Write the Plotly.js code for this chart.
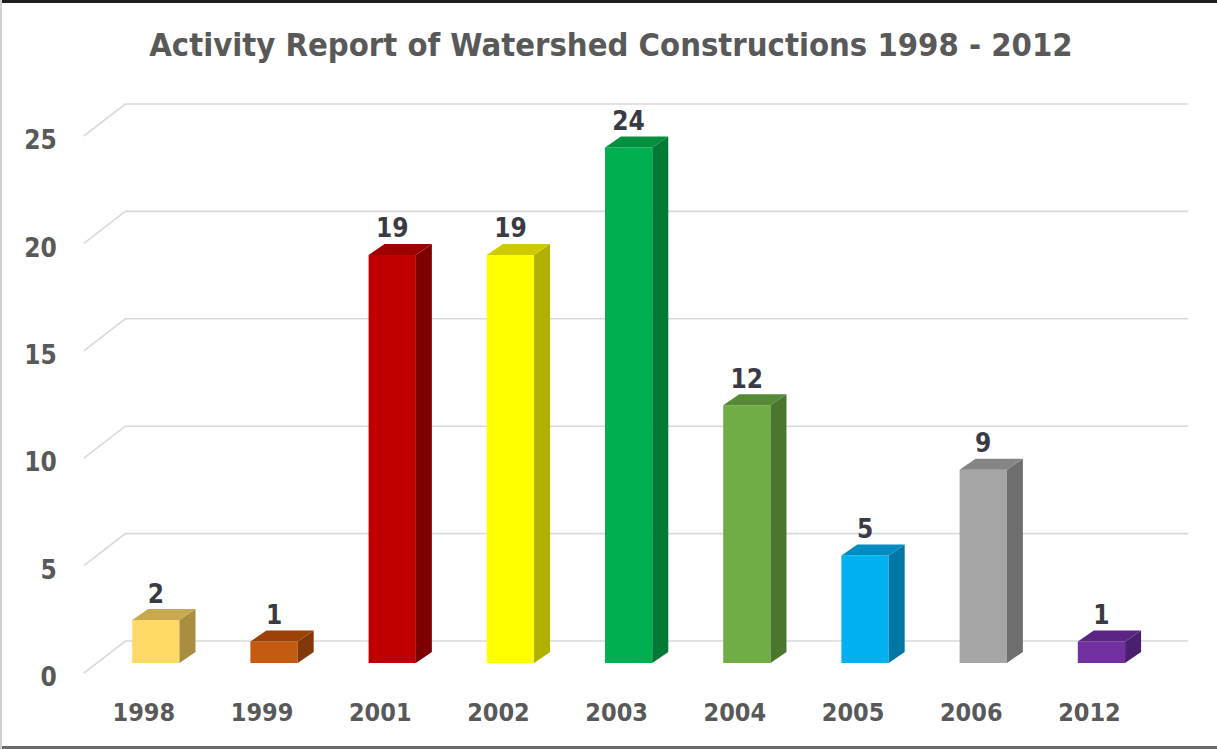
<!DOCTYPE html>
<html>
<head>
<meta charset="utf-8">
<script src="https://cdn.plot.ly/plotly-3.0.1.min.js"></script>
<style>
  html, body { margin: 0; padding: 0; background: #ffffff; }
  #wrap { position: relative; width: 1217px; height: 749px; overflow: hidden; }
  #chart { position: absolute; left: 0; top: 0; width: 1217px; height: 749px; }
  .edge { position: absolute; pointer-events: none; }
</style>
</head>
<body>
<div id="wrap">
  <div id="chart"></div>
  <div class="edge" style="left:0;top:0;width:1217px;height:3px;background:#1e1e1e;"></div>
  <div class="edge" style="left:0;bottom:0;width:1217px;height:3px;background:#6a6a6a;"></div>
  <div class="edge" style="left:0;top:0;width:2px;height:749px;background:#d0d0d0;"></div>
</div>
<script>
// ---- data ----
const years = ['1998', '1999', '2001', '2002', '2003', '2004', '2005', '2006', '2012'];
const counts = [2, 1, 19, 19, 24, 12, 5, 9, 1];
const yTicks = [0, 5, 10, 15, 20, 25];
const frontColors = ['#FFD966', '#C55A11', '#C00000', '#FFFF00', '#00B050', '#70AD47', '#00B0F0', '#A5A5A5', '#7030A0'];
const topColors   = ['#C8A94F', '#9C4209', '#9E0000', '#CCCC00', '#00903F', '#568A36', '#008CC0', '#858585', '#5A2585'];
const sideColors  = ['#A88E3E', '#833807', '#7F0000', '#B0B000', '#007A35', '#4A762E', '#0076A6', '#6E6E6E', '#4B1F70'];
const chartTitle = 'Activity Report of Watershed Constructions 1998 - 2012';

// ---- geometry (pixel-based styling constants) ----
const pxX = 118.2;     // pixels per category unit
const pxY = 21.48;     // pixels per value unit
const barW = 0.4;
const depthX = 16 / pxX, depthY = 11 / pxY;          // bar depth
const backX0 = -0.258, backX1 = 8.735, backDy = 22 / pxY;  // back wall
const frontX0 = -0.609, frontDy = -10 / pxY;               // floor front edge
const yLabelDy = -14 / pxY;
const xLabelDx = -12 / pxX;
const valueLabelDy = 24 / pxY;

const xs = years.map((_, i) => i);
const traces = [];

// back-wall gridlines with oblique side-wall lines (drawn below the bars)
const shapes = [];
yTicks.forEach(t => {
  shapes.push({
    type: 'path', xref: 'x', yref: 'y', layer: 'below',
    path: 'M ' + frontX0 + ' ' + (t + frontDy) + ' L ' + backX0 + ' ' + (t + backDy) +
          ' L ' + backX1 + ' ' + (t + backDy),
    line: { color: '#d9d9d9', width: 1.6 }
  });
});

// 3D faces
xs.forEach((x, i) => {
  const v = counts[i];
  const l = x - barW / 2, r = x + barW / 2;
  traces.push({
    type: 'scatter', mode: 'lines', fill: 'toself',
    x: [r, r + depthX, r + depthX, r, r],
    y: [0, depthY, v + depthY, v, 0],
    fillcolor: sideColors[i], line: { width: 0, color: sideColors[i] },
    hoverinfo: 'skip', showlegend: false
  });
  traces.push({
    type: 'scatter', mode: 'lines', fill: 'toself',
    x: [l, r, r + depthX, l + depthX, l],
    y: [v, v, v + depthY, v + depthY, v],
    fillcolor: topColors[i], line: { width: 0, color: topColors[i] },
    hoverinfo: 'skip', showlegend: false
  });
});

// front faces
traces.push({
  type: 'bar', x: xs, y: counts, width: barW,
  marker: { color: frontColors, line: { width: 0 } },
  text: years, hovertemplate: '%{text}: %{y}<extra></extra>',
  textposition: 'none', showlegend: false
});

const fontFam = "'Liberation Sans Narrow', 'DejaVu Sans Condensed', Roboto, sans-serif";

// value labels
traces.push({
  type: 'scatter', mode: 'text', x: xs, y: counts.map(v => v + valueLabelDy),
  text: counts.map(String), textposition: 'middle center',
  textfont: { family: fontFam, size: 26, color: '#3a3a44', weight: 'bold' },
  hoverinfo: 'skip', showlegend: false, cliponaxis: false
});

const layout = {
  width: 1217, height: 749,
  paper_bgcolor: '#ffffff', plot_bgcolor: '#ffffff',
  margin: { l: 79, r: 21, t: 95, b: 69 },
  title: {
    text: chartTitle,
    x: 0.502, xanchor: 'center', y: 0.94, yanchor: 'middle',
    font: { family: fontFam, size: 32.5, color: '#595959', weight: 'bold' }
  },
  shapes: shapes,
  xaxis: {
    range: [-0.65, 8.80], showgrid: false, zeroline: false, showline: false,
    tickvals: xs.map(x => x + xLabelDx), ticktext: years,
    ticks: 'outside', ticklen: 10, tickcolor: 'rgba(0,0,0,0)',
    tickfont: { family: fontFam, size: 25, color: '#595959', weight: 'bold' },
    fixedrange: true
  },
  yaxis: {
    range: [-0.791, 26.443], showgrid: false, zeroline: false, showline: false,
    tickvals: yTicks.map(t => t + yLabelDy), ticktext: yTicks.map(String),
    ticks: 'outside', ticklen: 16, tickcolor: 'rgba(0,0,0,0)',
    tickfont: { family: fontFam, size: 26, color: '#595959', weight: 'bold' },
    fixedrange: true
  },
  showlegend: false,
  hovermode: 'closest'
};

Plotly.newPlot('chart', traces, layout, { displayModeBar: false });
</script>
</body>
</html>
